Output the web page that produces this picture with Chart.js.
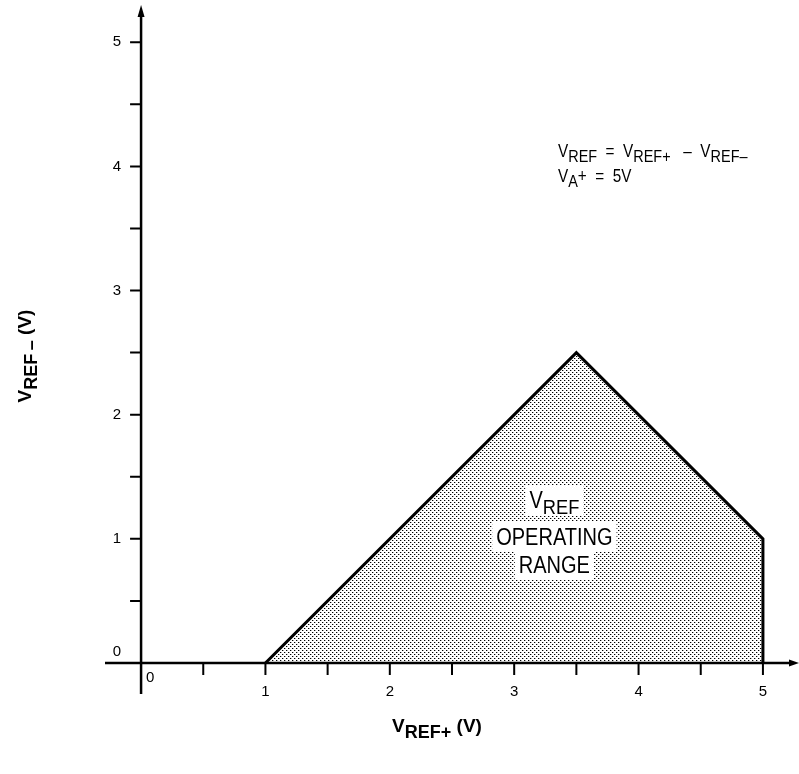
<!DOCTYPE html>
<html>
<head>
<meta charset="utf-8">
<script src="https://cdn.jsdelivr.net/npm/chart.js@4"></script>
<style>
  html, body { margin: 0; padding: 0; background: #ffffff; }
  #wrap { width: 799px; height: 774px; position: relative; }
</style>
</head>
<body>
<div id="wrap"><canvas id="c" width="799" height="774"></canvas></div>
<script>
// ---- data ----
const vrefPlus  = [1, 3.5, 5, 5];      // x: V_REF+ (V)
const vrefMinus = [0, 2.5, 1, 0];      // y: V_REF- (V)
const xTickValues = [0.5, 1, 1.5, 2, 2.5, 3, 3.5, 4, 4.5, 5];
const yTickValues = [0.5, 1, 1.5, 2, 2.5, 3, 3.5, 4, 4.5, 5];
const xLabelValues = [0, 1, 2, 3, 4, 5];
const xLabelTexts  = ['0', '1', '2', '3', '4', '5'];
const yLabelValues = [0, 1, 2, 3, 4, 5];
const yLabelTexts  = ['0', '1', '2', '3', '4', '5'];

const FONT = '"Liberation Sans", Arial, sans-serif';
const NARROW = '"Liberation Sans Narrow", "Liberation Sans", sans-serif';

// dotted fill pattern
function makePattern() {
  const p = document.createElement('canvas');
  p.width = 4; p.height = 4;
  const g = p.getContext('2d');
  g.fillStyle = '#ffffff';
  g.fillRect(0, 0, 4, 4);
  g.fillStyle = '#000000';
  g.fillRect(0, 0, 1, 1);
  g.fillRect(2, 2, 1, 1);
  g.fillStyle = 'rgba(0,0,0,0.3)';
  g.fillRect(1, 0, 1, 1);
  g.fillRect(3, 2, 1, 1);
  return document.getElementById('c').getContext('2d').createPattern(p, 'repeat');
}

function segsWidth(ctx, segs, size, subSize, family, weight, sx) {
  const f = (s) => (weight ? weight + ' ' : '') + s + 'px ' + family;
  let total = 0;
  segs.forEach(s => { ctx.font = f(s.sub ? subSize : size); total += ctx.measureText(s.t).width; });
  return total * sx;
}

// draw text made of segments [{t, sub}] at x, baseline y, horizontally scaled by sx
function richText(ctx, segs, x, y, size, subSize, subDrop, family, weight, align, sx) {
  sx = sx || 1;
  const f = (s) => (weight ? weight + ' ' : '') + s + 'px ' + family;
  const total = segsWidth(ctx, segs, size, subSize, family, weight, sx);
  const left = align === 'center' ? x - total / 2 : x;
  ctx.save();
  ctx.translate(left, y);
  ctx.scale(sx, 1);
  ctx.textAlign = 'left';
  ctx.textBaseline = 'alphabetic';
  let cx = 0;
  segs.forEach(s => {
    ctx.font = f(s.sub ? subSize : size);
    ctx.fillText(s.t, cx, s.sub ? subDrop : 0);
    cx += ctx.measureText(s.t).width;
  });
  ctx.restore();
  return { left: left, width: total };
}

const drawPlugin = {
  id: 'drawing',
  afterDatasetsDraw(chart) {
    const ctx = chart.ctx;
    const xs = chart.scales.x, ys = chart.scales.y;
    const X = v => xs.getPixelForValue(v), Y = v => ys.getPixelForValue(v);
    const ca = chart.chartArea;
    ctx.save();
    ctx.strokeStyle = '#000';
    ctx.fillStyle = '#000';
    ctx.lineCap = 'butt';

    // axes
    ctx.lineWidth = 2.5;
    ctx.beginPath();
    ctx.moveTo(ca.left, Y(0)); ctx.lineTo(ca.right - 6, Y(0));
    ctx.moveTo(X(0), ca.bottom); ctx.lineTo(X(0), ca.top + 8);
    ctx.stroke();
    // arrows
    ctx.beginPath();
    ctx.moveTo(ca.right, Y(0)); ctx.lineTo(ca.right - 10, Y(0) - 3.5); ctx.lineTo(ca.right - 10, Y(0) + 3.5); ctx.closePath();
    ctx.fill();
    ctx.beginPath();
    ctx.moveTo(X(0), ca.top); ctx.lineTo(X(0) - 3.5, ca.top + 12); ctx.lineTo(X(0) + 3.5, ca.top + 12); ctx.closePath();
    ctx.fill();

    // ticks
    ctx.lineWidth = 2;
    ctx.beginPath();
    xTickValues.forEach(v => { ctx.moveTo(X(v), Y(0)); ctx.lineTo(X(v), Y(0) + 12); });
    yTickValues.forEach(v => { ctx.moveTo(X(0), Y(v)); ctx.lineTo(X(0) - 11, Y(v)); });
    ctx.stroke();

    // tick labels
    ctx.font = '15px ' + FONT;
    ctx.textBaseline = 'middle';
    yLabelValues.forEach((v, i) => {
      ctx.textAlign = 'right';
      const yy = v === 0 ? Y(v) - 11 : Y(v);
      ctx.fillText(yLabelTexts[i], X(0) - 20, yy);
    });
    xLabelValues.forEach((v, i) => {
      if (v === 0) {
        ctx.textAlign = 'left';
        ctx.fillText(xLabelTexts[i], X(0) + 5, Y(0) + 15);
      } else {
        ctx.textAlign = 'center';
        ctx.fillText(xLabelTexts[i], X(v), Y(0) + 29);
      }
    });

    // axis titles
    richText(ctx, [{t: 'V'}, {t: 'REF+', sub: true}, {t: ' (V)'}], 437, 732, 19, 18, 6, FONT, 'bold', 'center', 1);
    ctx.save();
    ctx.translate(31, 356);
    ctx.rotate(-Math.PI / 2);
    richText(ctx, [{t: 'V'}, {t: 'REF\u2009\u2013', sub: true}, {t: ' (V)'}], 0, 0, 19, 18, 6, FONT, 'bold', 'center', 1);
    ctx.restore();

    // annotation
    ctx.fillStyle = '#000';
    richText(ctx, [{t: 'V'}, {t: 'REF', sub: true}, {t: '  =  V'}, {t: 'REF+', sub: true}, {t: '   \u2013  V'}, {t: 'REF\u2013', sub: true}], 558, 157, 18, 17, 5, NARROW, '', 'left', 0.85);
    richText(ctx, [{t: 'V'}, {t: 'A', sub: true}, {t: '+  =  5V'}], 558, 182, 18, 17, 5, NARROW, '', 'left', 0.85);

    // center label with white boxes
    const cxp = X(3.5) - 22;
    const lines = [
      { segs: [{t: 'V'}, {t: 'REF', sub: true}], base: 508 },
      { segs: [{t: 'OPERATING'}], base: 545 },
      { segs: [{t: 'RANGE'}], base: 573 }
    ];
    const fam = NARROW, sz = 23, subSz = 21, sx = 0.87;
    lines.forEach(l => {
      const w = segsWidth(ctx, l.segs, sz, subSz, fam, '', sx);
      ctx.fillStyle = '#fff';
      ctx.fillRect(cxp - w / 2 - 4, l.base - 23, w + 8, 30);
    });
    ctx.fillStyle = '#000';
    lines.forEach(l => richText(ctx, l.segs, cxp, l.base, sz, subSz, 6, fam, '', 'center', sx));
    ctx.restore();
  }
};

new Chart(document.getElementById('c'), {
  type: 'scatter',
  data: {
    datasets: [{
      data: vrefPlus.map((x, i) => ({ x: x, y: vrefMinus[i] })),
      showLine: true,
      borderColor: '#000',
      borderWidth: 3,
      borderJoinStyle: 'miter',
      pointRadius: 0,
      fill: 'origin',
      backgroundColor: makePattern(),
      tension: 0
    }]
  },
  options: {
    responsive: false,
    animation: false,
    devicePixelRatio: 1,
    layout: { padding: { left: 105, right: 0, top: 5, bottom: 80 } },
    plugins: { legend: { display: false }, tooltip: { enabled: false } },
    scales: {
      x: { type: 'linear', display: false, min: -0.29, max: 5.29 },
      y: { type: 'linear', display: false, min: -0.25, max: 5.3 }
    }
  },
  plugins: [drawPlugin]
});
</script>
</body>
</html>
